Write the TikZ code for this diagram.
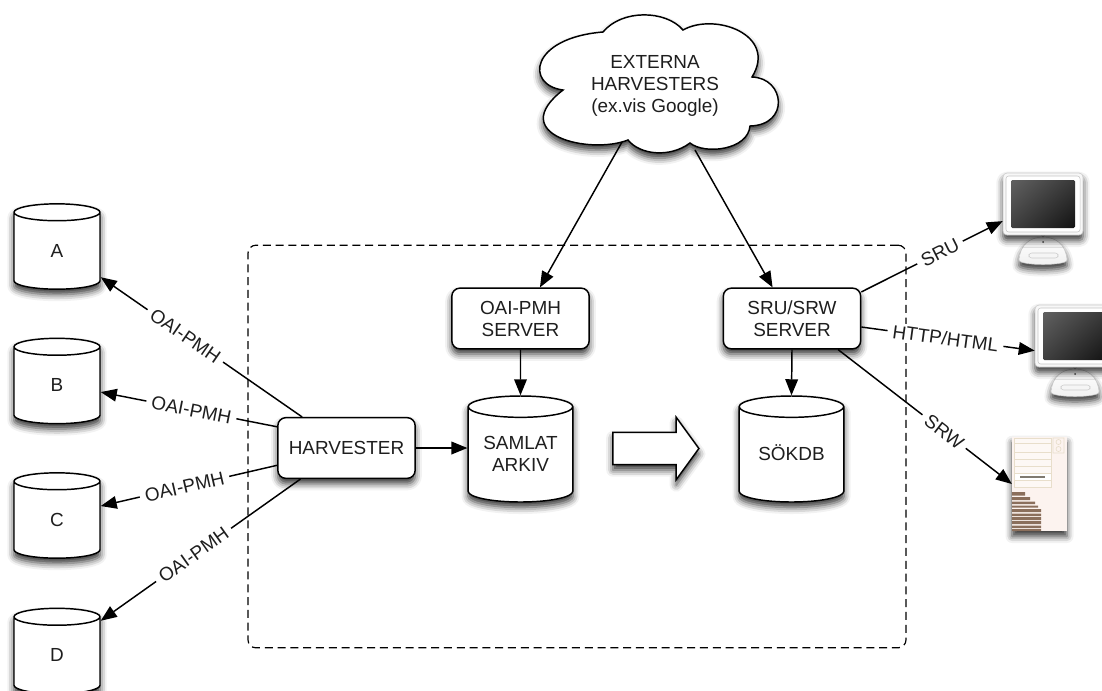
\documentclass[tikz,border=0pt]{standalone}
\usepackage{fontspec}
\setmainfont{Liberation Sans}
\usetikzlibrary{arrows.meta, shapes.geometric, shapes.arrows, shadows.blur, shadings}

\definecolor{inktext}{HTML}{1E1E1E}
\definecolor{docpaper}{HTML}{FCF3EF}
\definecolor{docline}{HTML}{E8DECB}
\definecolor{docstripe}{HTML}{8B6F5C}

\tikzset{
    dropshade/.style={blur shadow={shadow xshift=0pt, shadow yshift=-4pt, shadow blur radius=5pt, shadow opacity=80}},
    boxnode/.style={rectangle, draw, line width=1.1pt, fill=white, rounded corners=6pt, minimum width=103pt, minimum height=45.5pt, align=center, dropshade},
    dbbig/.style={cylinder, shape border rotate=90, aspect=2.4, anchor=shape center, draw, line width=1.1pt, fill=white, minimum width=78.5pt, minimum height=79.5pt, dropshade},
    dbsmall/.style={cylinder, shape border rotate=90, aspect=1.9, anchor=shape center, draw, line width=1.1pt, fill=white, minimum width=64.5pt, minimum height=64pt, dropshade},
    link/.style={draw=black, line width=1.1pt, fill opacity=1, -{Triangle[length=12pt, width=9.5pt, fill=black]}},
    linklabel/.style={fill=white, sloped, inner xsep=4pt, inner ysep=1.5pt},
    screenspot/.style={rectangle, minimum width=60pt, minimum height=46.5pt, inner sep=0pt},
    imac/.pic={
        % stand first, display on top of it
        \draw[gray!45, line width=0.4pt, top color=white, bottom color=gray!12, dropshade]
            (-24,56) .. controls (-23,40) and (-12,33) .. (0,33) .. controls (12,33) and (23,40) .. (24,56)
            .. controls (24,62) and (-24,62) .. (-24,56) -- cycle;
        \draw[gray!40, line width=0.4pt, fill=gray!8, rounded corners=2pt] (-14,49) rectangle (15,54);
        \draw[gray!60, line width=0.5pt] (-3,29) -- (0,33) -- (3,29);
        \fill[black!70] (0,38) circle (1);
        \draw[gray!40, line width=0.5pt, fill=gray!6, rounded corners=3pt, dropshade] (-40,-31) rectangle (40,31);
        \draw[gray!45, line width=0.4pt, fill=white, rounded corners=2pt] (-37,-28) rectangle (37,28);
        \shade[upper left=black!62, upper right=black!78, lower left=black!75, lower right=black!93, rounded corners=1pt] (-32,-24) rectangle (32,24);
    }
}

\begin{document}
\begin{tikzpicture}[x=0.75pt, y=-0.75pt, font=\fontsize{14.2}{16.5}\selectfont, text=inktext]
    \useasboundingbox (0, 0) rectangle (1102, 690);

    \node[rectangle, draw, line width=0.9pt, dash pattern=on 6pt off 3.6pt, rounded corners=6pt, minimum width=493.5pt, minimum height=302pt] (system_border) at (577, 446.5) {};

    % external cloud, drawn by hand
    \draw[line width=1.1pt, fill=white, dropshade] (603, 32) .. controls (622, 9) and (666, 10) .. (683, 30)
        .. controls (715, 12) and (778, 35) .. (752, 77)
        .. controls (785, 78) and (790, 125) .. (750, 126)
        .. controls (748, 150) and (705, 155) .. (690, 143)
        .. controls (670, 158) and (640, 155) .. (628, 140)
        .. controls (590, 155) and (505, 135) .. (563, 90)
        .. controls (525, 85) and (530, 38) .. (603, 32) -- cycle;
    \node[align=center] (externa) at (655, 86) {EXTERNA\\HARVESTERS\\(ex.vis Google)};
    \coordinate (cloud_left) at (622, 142);
    \coordinate (cloud_right) at (695, 150);

    \node[dbsmall] (db_a) at (57, 246.5) {};
    \node[dbsmall] (db_b) at (57, 381) {};
    \node[dbsmall] (db_c) at (57, 515.5) {};
    \node[dbsmall] (db_d) at (57, 651) {};
    \node (db_a_text) at (57, 250.7) {A};
    \node (db_b_text) at (57, 385) {B};
    \node (db_c_text) at (57, 520) {C};
    \node (db_d_text) at (57, 655) {D};

    \node[boxnode] (harvester) at (346.5, 448) {HARVESTER};
    \node[boxnode] (oai_server) at (520.5, 318.5) {OAI-PMH\\SERVER};
    \node[boxnode] (sru_server) at (792, 318.5) {SRU/SRW\\SERVER};
    \node[dbbig] (samlat) at (520.5, 449) {};
    \node[dbbig] (sokdb) at (791.5, 449) {};
    \node[align=center] (samlat_text) at (520.5, 454) {SAMLAT\\ARKIV};
    \node (sokdb_text) at (791.5, 453) {SÖKDB};

    \node[single arrow, draw, line width=1.1pt, fill=white, minimum height=64.5pt, single arrow head extend=11.25pt, single arrow tip angle=108, single arrow head indent=0pt, inner xsep=0pt, inner ysep=11.6pt, dropshade] (transfer) at (650, 448.5) {};

    \node[screenspot] (monitor_one) at (1043, 204) {};
    \pic at (monitor_one.center) {imac};
    \node[screenspot] (monitor_two) at (1075, 336) {};
    \pic at (monitor_two.center) {imac};

    % report icon
    \node[rectangle, fill=docpaper, minimum width=41pt, minimum height=70.5pt, inner sep=0pt, dropshade] (report) at (1039.5, 484) {};
    \draw[docline, line width=0.6pt, fill=docpaper!60!white] (1014, 438) rectangle (1051, 487);
    \draw[docline, line width=0.5pt] (1014, 443) -- (1051, 443) (1014, 452) -- (1051, 452) (1014, 459) -- (1051, 459) (1014, 466) -- (1051, 466);
    \draw[docline, line width=0.6pt, fill=white] (1014, 473) rectangle (1051, 480);
    \draw[black!45!docline, line width=1.2pt] (1020, 477) -- (1045, 477);
    \draw[docline, line width=0.5pt] (1053, 438) rectangle (1064, 453) (1058.5, 442) circle (2.5) (1058.5, 449) circle (2.5);
    \fill[docstripe] (1012, 492) rectangle (1025, 495.5) (1012, 497) rectangle (1030, 500) (1012, 501.5) rectangle (1035, 504) (1012, 505.5) rectangle (1038, 507.5)
        (1012, 509) rectangle (1041, 512) (1012, 513.5) rectangle (1041, 516) (1012, 517) rectangle (1041, 520) (1012, 521) rectangle (1041, 524) (1012, 525.5) rectangle (1041, 528) (1012, 529) rectangle (1041, 531);

    \draw[link] (cloud_left) -- (oai_server.58.8);
    \draw[link] (cloud_right) -- (sru_server.122);
    \draw[link] (oai_server.south) -- (samlat.90);
    \draw[link] (sru_server.south) -- (sokdb.90);
    \draw[link] (harvester.east) -- (samlat.180 |- harvester.east);

    \draw[link] (harvester.145.4) -- node[linklabel, pos=0.58] {OAI-PMH} (db_a.-29);
    \draw[link] (harvester.163.7) -- node[linklabel, pos=0.486] {OAI-PMH} (db_b.-6);
    \draw[link] (harvester.194.7) -- node[linklabel, pos=0.525] {OAI-PMH} (db_c.20.5);
    \draw[link] (harvester.214.6) -- node[linklabel, pos=0.535] {OAI-PMH} (db_d.40.8);

    \draw[link] (sru_server.21.7) -- node[linklabel, pos=0.556] {SRU} (monitor_one.203);
    \draw[link] (sru_server.-7) -- node[linklabel, pos=0.485] {HTTP/HTML} (monitor_two.200);
    \draw[link] (sru_server.-34) -- node[linklabel, pos=0.61] {SRW} (report.180);
\end{tikzpicture}
\end{document}
